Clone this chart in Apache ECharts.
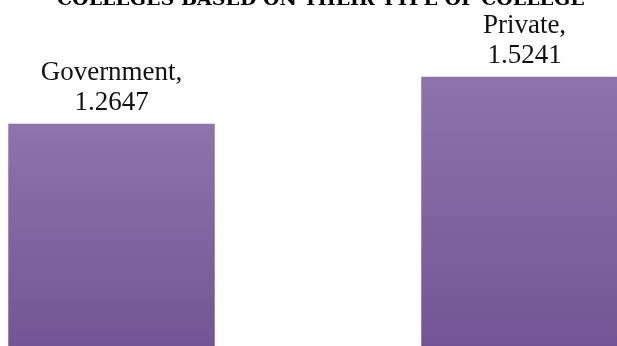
<!DOCTYPE html>
<html>
<head>
<meta charset="utf-8">
<script src="https://cdn.jsdelivr.net/npm/echarts@6/dist/echarts.min.js"></script>
<style>
html,body{margin:0;padding:0;background:#fff;}
#chart{width:617px;height:346px;}
</style>
</head>
<body>
<div id="chart"></div>
<script>
const titleText = 'COLLEGES BASED ON THEIR TYPE OF COLLEGE';
const categories = ['Government', 'Private'];
const values = [1.2647, 1.5241];

const chart = echarts.init(document.getElementById('chart'), null, {renderer: 'canvas'});
chart.setOption({
  animation: false,
  backgroundColor: '#ffffff',
  title: {
    text: titleText,
    left: 52,
    top: -14,
    textStyle: {
      fontFamily: 'DejaVu Serif',
      fontWeight: 'bold',
      fontSize: 19,
      color: '#000000'
    }
  },
  grid: {left: -95, right: -114, top: 63, bottom: -7, containLabel: false, outerBoundsMode: 'none'},
  xAxis: {
    type: 'category',
    data: categories,
    show: false,
    boundaryGap: true
  },
  yAxis: {
    type: 'value',
    min: 0,
    max: 1.6,
    show: false
  },
  series: [{
    type: 'bar',
    data: values,
    barWidth: '50%',
    itemStyle: {
      color: new echarts.graphic.LinearGradient(0, 0, 0, 1, [
        {offset: 0, color: '#8d74ac'},
        {offset: 1, color: '#725496'}
      ])
    },
    label: {
      show: true,
      position: 'top',
      distance: 6,
      formatter: function (p) { return p.name + ',\n' + p.value; },
      fontFamily: 'Liberation Serif',
      fontSize: 27,
      lineHeight: 30,
      color: '#111111',
      align: 'center'
    }
  }]
});
</script>
</body>
</html>
